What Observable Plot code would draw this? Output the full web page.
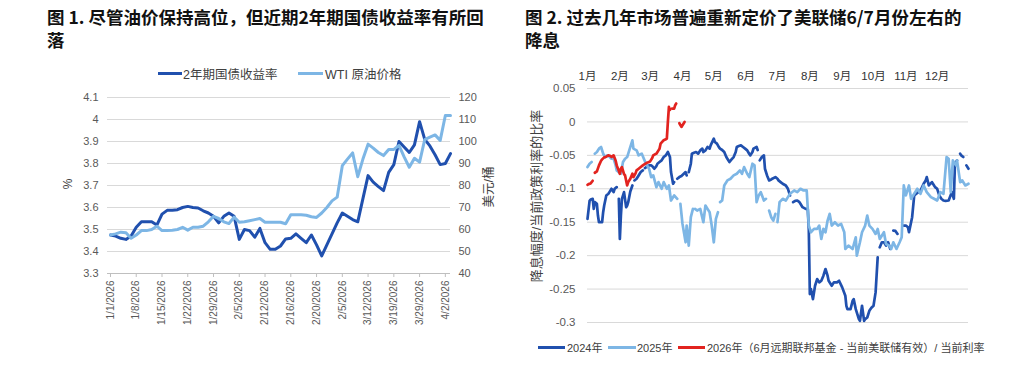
<!DOCTYPE html>
<html><head><meta charset="utf-8">
<script src="https://cdn.jsdelivr.net/npm/d3@7"></script>
<script src="https://cdn.jsdelivr.net/npm/@observablehq/plot@0.6"></script>
<style>
body{margin:0;background:#fff;}
#root{position:relative;width:1024px;height:372px;overflow:hidden;font-family:"Liberation Sans",Arial,"Noto Sans CJK SC",sans-serif;color:#404040;}
.title{position:absolute;font-family:"Noto Sans CJK SC",sans-serif;font-weight:bold;font-size:17.5px;line-height:23px;color:#111;white-space:nowrap;}
.abs{position:absolute;white-space:nowrap;}
.sw{position:absolute;height:3px;}
.plot{position:absolute;}
.rot{position:absolute;transform:translate(-50%,-50%) rotate(-90deg);white-space:nowrap;}
</style></head>
<body><div id="root">
<div class="title" style="left:47px;top:5px">图 1. 尽管油价保持高位，但近期2年期国债收益率有所回<br>落</div>
<div class="title" style="left:525px;top:5px">图 2. 过去几年市场普遍重新定价了美联储6/7月份左右的<br>降息</div>
</div>
<script>
// ---------- Figure 1 data ----------
const dateLabels = ["1/1/2026","1/8/2026","1/15/2026","1/22/2026","1/29/2026","2/5/2026","2/12/2026","2/16/2026","2/20/2026","2/5/2026","3/12/2026","3/19/2026","3/29/2026","4/2/2026"];
const yield2y = [3.475,3.47,3.46,3.455,3.47,3.51,3.535,3.535,3.535,3.52,3.57,3.587,3.587,3.59,3.6,3.605,3.6,3.598,3.585,3.575,3.56,3.53,3.56,3.575,3.56,3.455,3.5,3.495,3.465,3.505,3.44,3.41,3.41,3.425,3.457,3.46,3.48,3.46,3.44,3.475,3.43,3.38,3.43,3.48,3.53,3.575,3.56,3.545,3.535,3.64,3.745,3.715,3.695,3.677,3.76,3.795,3.9,3.875,3.85,3.885,3.99,3.91,3.88,3.84,3.795,3.8,3.845];
const wtiOil = [57.5,58,58.8,58.5,56,57.5,59.5,59.5,60,61.5,59.5,59.5,59.7,60,61,59.7,61,61,61.5,63.5,66,65,63.5,62.7,65.6,63.3,63.5,64,64.5,65,63.3,63.3,63.3,63.3,62.6,66.7,66.7,66.7,66.5,65.8,65.5,67.5,70,73,74.7,89,92,94.8,84,92,98.8,97,95,93.6,96.4,96.4,98.2,93,88.3,92.4,90.6,100.9,102,103,100.5,111.8,111.8];
const yieldTicks = [3.3,3.4,3.5,3.6,3.7,3.8,3.9,4.0,4.1];
const oilTicks = [40,50,60,70,80,90,100,110,120];

// ---------- Figure 2 data ([day of year, ratio], null = gap) ----------
const monthLabels = ["1月","2月","3月","4月","5月","6月","7月","8月","9月","10月","11月","12月"];
const monthStarts = [0,31,60,91,121,152,182,213,244,274,305,335];
const ratioTicks = [-0.3,-0.25,-0.2,-0.15,-0.1,-0.05,0,0.05];
const s2024 = [[0,-0.145],[2,-0.118],[3,-0.116],[5,-0.115],[6,-0.13],[7,-0.12],[9,-0.1225],[10,-0.14],[11,-0.15],[13,-0.15],[14,-0.15],[15,-0.135],[16,-0.125],[18,-0.11],[20,-0.1075],[21,-0.105],[23,-0.1],[25,-0.105],[26,-0.1],[28,-0.0975],[29,null],[30,-0.115],[31,-0.175],[32,-0.14],[33,-0.115],[35,-0.105],[37,-0.1275],[38,-0.125],[39,-0.12],[41,-0.104],[43,-0.095],[44,null],[45,-0.0875],[47,-0.085],[49,-0.08],[51,-0.075],[53,-0.0725],[54,null],[55,-0.069],[57,-0.067],[59,-0.065],[61,-0.065],[62,-0.066],[64,-0.07],[66,-0.066],[67,-0.0625],[69,-0.06],[71,-0.0575],[73,-0.0525],[75,-0.05],[77,-0.045],[79,-0.0525],[80,-0.075],[82,-0.0925],[83,-0.09],[85,null],[86,-0.085],[88,-0.0825],[90,-0.081],[92,-0.078],[94,-0.075],[95,-0.08],[96,null],[97,-0.075],[99,-0.0625],[100,-0.0475],[102,-0.046],[104,-0.045],[106,-0.0475],[108,-0.0425],[110,-0.04],[111,-0.045],[113,-0.0425],[115,-0.0375],[117,-0.04],[118,-0.035],[121,-0.025],[122,-0.03],[124,-0.0325],[126,-0.038],[127,-0.04],[129,-0.042],[131,-0.045],[133,-0.0525],[134,-0.055],[136,-0.06],[138,-0.056],[140,-0.0525],[142,-0.045],[143,-0.0375],[145,-0.036],[147,-0.035],[149,-0.0375],[151,-0.04],[153,-0.0425],[155,-0.048],[156,-0.05],[158,-0.045],[159,-0.04],[162,-0.0375],[163,-0.042],[164,null],[165,-0.0575],[167,-0.0525],[169,-0.05],[170,-0.07],[172,-0.08],[174,-0.0875],[176,-0.086],[177,-0.085],[180,-0.0825],[182,-0.085],[183,-0.0875],[185,-0.09],[187,-0.0925],[190,-0.095],[192,-0.1],[194,-0.11],[195,null],[197,-0.12],[199,-0.118],[201,-0.1175],[203,-0.12],[204,-0.1225],[206,-0.1275],[209,-0.13],[211,-0.13],[212,-0.16],[213,-0.2575],[214,-0.25],[216,-0.265],[218,-0.245],[220,-0.235],[222,-0.24],[224,-0.2375],[226,-0.23],[228,-0.22],[230,-0.23],[231,-0.2375],[234,-0.245],[236,-0.24],[239,-0.24],[241,-0.2375],[244,-0.2475],[247,-0.26],[248,-0.275],[249,-0.28],[252,-0.28],[254,-0.2675],[255,-0.265],[257,-0.28],[260,-0.295],[261,-0.2975],[263,-0.275],[265,-0.2975],[266,-0.295],[268,-0.2925],[270,-0.2825],[272,-0.278],[274,-0.275],[276,-0.255],[278,-0.2025],[279,null],[280,-0.1875],[282,-0.18],[284,-0.18],[286,-0.185],[288,-0.18],[290,-0.19],[291,null],[293,-0.1625],[295,-0.163],[297,-0.1675],[299,null],[303,-0.155],[305,-0.155],[307,-0.1575],[308,-0.165],[310,-0.15],[311,-0.1425],[313,-0.11],[315,-0.1075],[317,-0.105],[319,-0.1025],[322,-0.0925],[324,-0.0875],[325,-0.0825],[327,-0.095],[330,-0.09],[332,-0.095],[333,-0.0975],[335,-0.1],[337,-0.11],[339,-0.115],[341,-0.1175],[343,-0.118],[346,-0.1175],[349,-0.105],[351,-0.115],[352,-0.0625],[354,-0.0575],[355,null],[357,-0.0475],[358,-0.05],[360,-0.0525],[361,null],[363,-0.065],[365,-0.07]];
const s2025 = [[0,-0.0675],[2,-0.0625],[4,-0.06],[6,null],[7,-0.0475],[9,-0.045],[11,-0.04],[13,-0.0375],[15,-0.0475],[17,-0.0525],[19,-0.05],[21,-0.052],[23,-0.055],[25,-0.055],[27,-0.065],[28,-0.0725],[30,-0.075],[32,-0.0775],[34,-0.06],[36,-0.055],[38,-0.0525],[40,-0.0425],[43,-0.0275],[44,-0.04],[47,-0.0425],[49,-0.05],[51,-0.048],[52,-0.0475],[54,-0.055],[56,-0.0625],[59,-0.07],[61,-0.0825],[63,-0.08],[66,-0.0975],[68,-0.09],[71,-0.1],[73,-0.09],[76,-0.1],[78,-0.095],[80,-0.1175],[83,-0.11],[86,-0.115],[87,null],[89,-0.1225],[91,-0.1525],[94,-0.18],[95,-0.155],[97,-0.185],[99,-0.1425],[101,-0.13],[102,null],[103,-0.13],[105,-0.1325],[108,-0.13],[111,-0.15],[113,-0.125],[115,-0.13],[117,-0.135],[119,-0.155],[121,-0.18],[123,-0.145],[125,-0.135],[126,null],[127,-0.12],[129,-0.1175],[131,-0.095],[134,-0.0875],[137,-0.085],[140,-0.08],[143,-0.0775],[146,-0.0725],[148,-0.0775],[150,-0.0675],[153,-0.0775],[155,-0.0825],[158,-0.0625],[160,-0.065],[162,-0.12],[164,-0.11],[166,-0.105],[169,-0.1175],[171,-0.115],[172,null],[174,-0.1325],[176,-0.1425],[178,-0.1475],[180,-0.1375],[181,null],[182,-0.15],[184,-0.12],[187,-0.115],[190,-0.1175],[192,-0.1125],[194,-0.1075],[198,-0.1025],[201,-0.105],[204,-0.1],[207,-0.1025],[210,-0.1025],[212,-0.155],[214,-0.165],[217,-0.16],[220,-0.16],[222,-0.155],[224,-0.175],[226,-0.16],[228,-0.165],[230,-0.1475],[232,-0.1375],[234,-0.155],[237,-0.15],[240,-0.155],[243,-0.1525],[246,-0.165],[247,-0.19],[250,-0.185],[254,-0.19],[257,-0.1725],[258,-0.2],[261,-0.18],[263,-0.165],[266,-0.155],[268,-0.14],[270,-0.155],[273,-0.16],[276,-0.1675],[278,-0.16],[280,-0.175],[284,-0.165],[286,-0.1825],[289,-0.185],[291,-0.19],[293,-0.18],[296,-0.19],[299,-0.18],[301,-0.1725],[303,-0.095],[305,-0.11],[308,-0.095],[310,-0.115],[313,-0.1075],[316,-0.1],[319,-0.1075],[322,-0.095],[325,-0.105],[329,-0.1125],[332,-0.115],[335,-0.1175],[338,-0.105],[341,-0.1075],[344,-0.0525],[346,-0.055],[348,-0.105],[350,-0.0575],[353,-0.065],[354,-0.0575],[357,-0.09],[359,-0.0875],[362,-0.095],[365,-0.0925]];
const s2026 = [[0,-0.094],[1,-0.093],[3,-0.092],[5,-0.088],[6,null],[7,-0.076],[9,-0.074],[11,-0.065],[13,-0.058],[14,-0.056],[16,-0.053],[18,-0.052],[20,-0.05],[22,-0.051],[23,-0.0525],[25,-0.05],[27,-0.058],[28,-0.065],[30,-0.073],[31,-0.0775],[32,-0.07],[33,-0.0675],[35,-0.078],[36,-0.08],[38,-0.095],[39,-0.09],[41,-0.085],[43,-0.0775],[44,-0.0825],[46,-0.077],[47,-0.0725],[49,-0.07],[51,-0.0675],[53,-0.065],[54,-0.064],[56,-0.062],[57,-0.061],[59,-0.06],[60,-0.059],[62,-0.054],[63,-0.05],[65,-0.048],[66,-0.0475],[68,-0.0425],[69,-0.04],[70,-0.0325],[72,-0.029],[73,-0.0275],[75,-0.026],[76,-0.025],[77,0],[78,0.0225],[79,0.018],[80,null],[81,0.02],[83,0.02],[84,0.025],[85,0.0275],[86,null],[88,-0.002],[90,-0.0075],[91,-0.005],[93,0]];

// ---------- styles ----------
const DARK = "#2050ae", LIGHT = "#7db6e5", RED = "#e2231f";
const GRID = "#d9d9d9", TXT = "#595959";
const root = document.getElementById("root");
function place(el, left, top){ el.classList.add("plot"); el.style.left = left+"px"; el.style.top = top+"px"; root.appendChild(el); }
function addText(html, css){ const d = document.createElement("div"); d.className = "abs"; d.innerHTML = html; Object.assign(d.style, css); root.appendChild(d); return d; }
function addSwatch(color, left, top, width){ const d = document.createElement("div"); d.className = "sw"; Object.assign(d.style,{background:color,left:left+"px",top:top+"px",width:width+"px"}); root.appendChild(d); }
function addRot(text, cx, cy, size){ const d = document.createElement("div"); d.className="rot"; d.textContent=text; Object.assign(d.style,{left:cx+"px",top:cy+"px",fontSize:size+"px",fontFamily:'"Liberation Sans",Arial,"Noto Sans CJK SC",sans-serif',color:"#404040"}); root.appendChild(d); }

const idx = d3.range(yield2y.length);
const tickIdx = dateLabels.map((_, k) => k * 5);
const fnt = '"Liberation Sans", Arial, "Noto Sans CJK SC", sans-serif';

// ---------- Figure 1: yield (left axis) ----------
const p1 = Plot.plot({
  width: 512, height: 250, marginTop: 12, marginBottom: 62, marginLeft: 107, marginRight: 62,
  x: {domain: [-0.58, 66]},
  y: {domain: [3.3, 4.1]},
  style: {fontFamily: fnt, fontSize: "11px", color: TXT, background: "transparent", overflow: "visible"},
  marks: [
    Plot.ruleY(yieldTicks.slice(1), {stroke: GRID, strokeWidth: 1}),
    Plot.ruleY([3.3], {stroke: "#bfbfbf", strokeWidth: 1}),
    Plot.axisY({ticks: yieldTicks, tickSize: 0, tickPadding: 9, tickFormat: d => String(+d.toFixed(1)), label: null}),
    Plot.axisX({ticks: tickIdx, tickFormat: d => dateLabels[Math.round(d / 5)], tickRotate: -90, tickSize: 4, tickPadding: 3, label: null, stroke: "#bfbfbf", fontSize: "10px"}),
    Plot.line(idx, {x: d => d, y: d => yield2y[d], stroke: DARK, strokeWidth: 3, strokeLinejoin: "round"})
  ]
});
place(p1, 0, 85);

// ---------- Figure 1: oil (right axis), overlaid ----------
const p2 = Plot.plot({
  width: 512, height: 250, marginTop: 12, marginBottom: 62, marginLeft: 107, marginRight: 62,
  x: {domain: [-0.58, 66], axis: null},
  y: {domain: [40, 120]},
  style: {fontFamily: fnt, fontSize: "11px", color: TXT, background: "transparent", overflow: "visible"},
  marks: [
    Plot.axisY({anchor: "right", ticks: oilTicks, tickSize: 0, tickPadding: 8, label: null}),
    Plot.line(idx, {x: d => d, y: d => wtiOil[d], stroke: LIGHT, strokeWidth: 3, strokeLinejoin: "round"})
  ]
});
place(p2, 0, 85);

addSwatch(DARK, 158, 72, 24);
addText("2年期国债收益率", {left: "183px", top: "64px", fontSize: "12.5px", color: "#404040"});
addSwatch(LIGHT, 298, 72, 25);
addText("WTI 原油价格", {left: "325px", top: "64px", fontSize: "12.5px", color: "#404040"});
addRot("%", 68, 184, 12);
addRot("美元/桶", 487, 187, 12.5);

// ---------- Figure 2 ----------
const line = (data, color) => Plot.line(data, {x: d => d[0], y: d => d[1], stroke: color, strokeWidth: 2.7, strokeLinejoin: "round"});
const p3 = Plot.plot({
  width: 504, height: 280, marginTop: 28, marginBottom: 18, marginLeft: 67, marginRight: 56,
  x: {domain: [0, 365]},
  y: {domain: [-0.3, 0.05]},
  style: {fontFamily: fnt, fontSize: "11.5px", color: TXT, background: "transparent", overflow: "visible"},
  marks: [
    Plot.ruleY(ratioTicks, {stroke: GRID, strokeWidth: 1}),
    Plot.axisY({ticks: ratioTicks, tickSize: 0, tickPadding: 12, tickFormat: d => String(+d.toFixed(2)), label: null}),
    Plot.axisX({anchor: "top", ticks: monthStarts, tickFormat: d => monthLabels[monthStarts.indexOf(d)], tickSize: 0, tickPadding: 9, label: null, fill: "#333"}),
    line(s2024, DARK),
    line(s2025, LIGHT),
    line(s2026, RED)
  ]
});
place(p3, 520, 60);

addRot("降息幅度/当前政策利率的比率", 535, 196, 13);
addSwatch(DARK, 538, 346, 27);
addText("2024年", {left: "567px", top: "339px", fontSize: "11px", color: "#404040"});
addSwatch(LIGHT, 608, 346, 28);
addText("2025年", {left: "637px", top: "339px", fontSize: "11px", color: "#404040"});
addSwatch(RED, 678, 346, 27);
addText("2026年（6月远期联邦基金 - 当前美联储有效）/ 当前利率", {left: "707px", top: "339px", fontSize: "11px", color: "#404040"});
</script>
</body></html>
